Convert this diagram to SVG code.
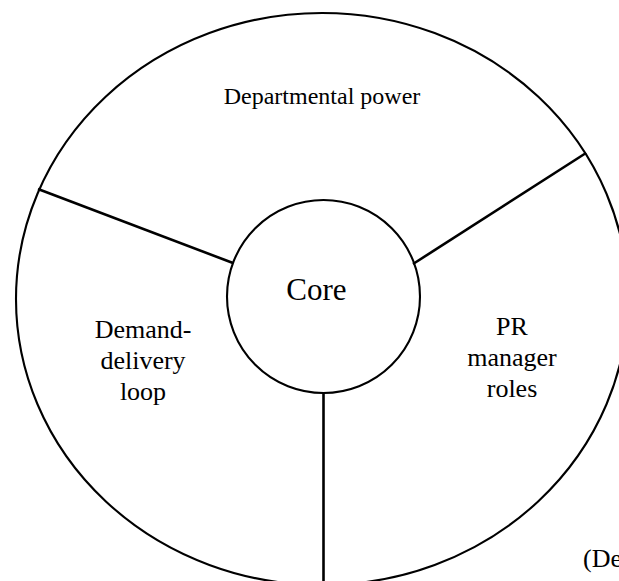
<svg xmlns="http://www.w3.org/2000/svg" width="619" height="581" viewBox="0 0 619 581">
<style>
.edge{fill:none;stroke:#000;stroke-width:2.6;stroke-linecap:butt}
.ring{fill:none;stroke:#000;stroke-width:2.1}
.lbl{font-family:"Liberation Serif","Times New Roman",serif;font-size:26px;fill:#000;text-anchor:middle}
</style>
<rect width="619" height="581" fill="#fff"/>
<g id="outer"><ellipse class="ring" cx="322" cy="299" rx="306" ry="286"/></g>
<g id="connectors">
<line class="edge" x1="38" y1="189" x2="233" y2="263"/>
<line class="edge" x1="586" y1="153" x2="413" y2="264"/>
<line class="edge" x1="323.5" y1="393" x2="323.5" y2="585"/>
</g>
<g id="core"><circle class="ring" cx="323.5" cy="296.5" r="96.5"/><text class="lbl" x="316.5" y="300" style="font-size:31px">Core</text></g>
<g id="departmental"><text class="lbl" x="322" y="104" style="font-size:24px">Departmental power</text></g>
<g id="demand"><text class="lbl" x="143" y="338">Demand-</text><text class="lbl" x="143" y="369">delivery</text><text class="lbl" x="143" y="400">loop</text></g>
<g id="pr"><text class="lbl" x="512" y="335">PR</text><text class="lbl" x="512" y="366">manager</text><text class="lbl" x="512" y="397">roles</text></g>
<g id="note"><text x="583" y="567" style="font-family:'Liberation Serif','Times New Roman',serif;font-size:26px">(De</text></g>
</svg>
